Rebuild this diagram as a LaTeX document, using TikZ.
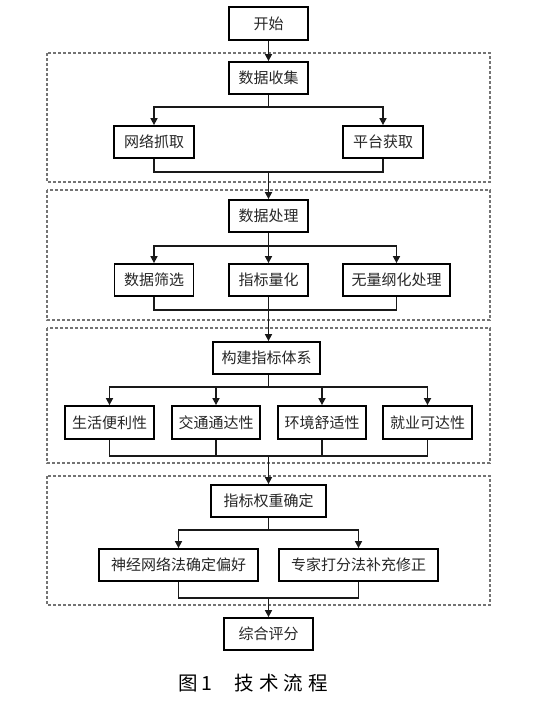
\documentclass[tikz,border=0pt]{standalone}
\usepackage{fontspec}
\newfontfamily\cjk{Noto Sans CJK SC}
\usetikzlibrary{arrows.meta}
\begin{document}
\begin{tikzpicture}[x=1pt,y=-1pt,
  box/.style={draw=black,line width=1.8pt,minimum height=32pt,inner sep=0pt,
    font=\cjk\fontsize{15}{16}\selectfont,text=black!85},
  conn/.style={line width=1.6pt,black!90},
  arr/.style={conn,-{Triangle[length=7pt,width=7pt]}},
  group/.style={draw=black!55,line width=2.3pt,dash pattern=on 3.4pt off 1.6pt}]
\useasboundingbox (0,0) rectangle (543,712);

% group frames
\draw[group] (47,53) rectangle (490,182);
\draw[group] (47,190) rectangle (490,320);
\draw[group] (47,328) rectangle (490,463);
\draw[group] (47,476) rectangle (490,605);

% nodes
\node[box,minimum width=79pt,minimum height=33pt] (start) at (268.5,23.5) {开始};
\node[box,minimum width=79pt] (collect) at (268.5,78) {数据收集};
\node[box,minimum width=80pt] (web) at (154,142) {网络抓取};
\node[box,minimum width=80pt] (plat) at (383,142) {平台获取};

\node[box,minimum width=79pt] (proc) at (268.5,216) {数据处理};
\node[box,minimum width=79pt] (filt) at (154,280) {数据筛选};
\node[box,minimum width=79pt] (quant) at (268.5,280) {指标量化};
\node[box,minimum width=107pt] (norm) at (396.5,280) {无量纲化处理};

\node[box,minimum width=107pt] (build) at (266.5,358) {构建指标体系};
\node[box,minimum width=89pt,minimum height=33pt] (live) at (109.5,422.5) {生活便利性};
\node[box,minimum width=88pt,minimum height=33pt] (traffic) at (216,422.5) {交通通达性};
\node[box,minimum width=88pt,minimum height=33pt] (env) at (322,422.5) {环境舒适性};
\node[box,minimum width=89pt,minimum height=33pt] (job) at (427.5,422.5) {就业可达性};

\node[box,minimum width=115pt] (weight) at (268.5,501) {指标权重确定};
\node[box,minimum width=159pt] (neural) at (178.5,565) {神经网络法确定偏好};
\node[box,minimum width=159pt] (expert) at (358.5,565) {专家打分法补充修正};

\node[box,minimum width=89pt] (score) at (268.5,634) {综合评分};

% caption
\node[font=\cjk\fontsize{19.5}{21}\selectfont,inner sep=0pt] (cap) at (253,683)
  {图\hspace{4pt}1\hspace{22pt}技\hspace{5pt}术\hspace{5pt}流\hspace{5pt}程};

% section 1
\draw[arr] (start) -- (collect);
\coordinate (b1) at (268.5,107);
\coordinate (m1) at (268.5,172);
\draw[conn] (collect.south) -- (b1);
\draw[arr] (b1) -| (web.north);
\draw[arr] (b1) -| (plat.north);
\draw[conn] (web.south) |- (m1);
\draw[conn] (plat.south) |- (m1);
\draw[arr] (m1) -- (proc.north);

% section 2
\coordinate (b2) at (268.5,246);
\coordinate (m2) at (268.5,310);
\draw[conn] (proc.south) -- (b2);
\draw[arr] (b2) -| (filt.north);
\draw[arr] (b2) -- (quant.north);
\draw[arr] (b2) -| (norm.north);
\draw[conn] (filt.south) |- (m2);
\draw[conn] (norm.south) |- (m2);
\draw[conn] (quant.south) -- (m2);
\draw[arr] (m2) -- (m2 |- build.north);

% section 3
\coordinate (b3) at (268.5,387);
\coordinate (m3) at (268.5,456);
\draw[conn] (b3 |- build.south) -- (b3);
\draw[arr] (b3) -| (live.north);
\draw[arr] (b3) -| (traffic.north);
\draw[arr] (b3) -| (env.north);
\draw[arr] (b3) -| (job.north);
\draw[conn] (live.south) |- (m3);
\draw[conn] (traffic.south) |- (m3);
\draw[conn] (env.south) |- (m3);
\draw[conn] (job.south) |- (m3);
\draw[arr] (m3) -- (weight.north);

% section 4
\coordinate (b4) at (268.5,530);
\coordinate (m4) at (268.5,598);
\draw[conn] (weight.south) -- (b4);
\draw[arr] (b4) -| (neural.north);
\draw[arr] (b4) -| (expert.north);
\draw[conn] (neural.south) |- (m4);
\draw[conn] (expert.south) |- (m4);
\draw[arr] (m4) -- (score.north);
\end{tikzpicture}
\end{document}
